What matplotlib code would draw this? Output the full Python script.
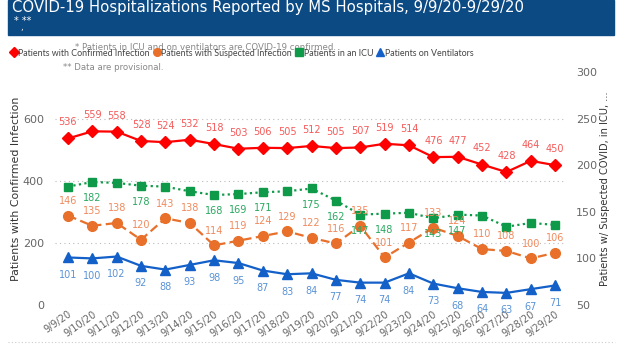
import numpy as np
import matplotlib.pyplot as plt
from matplotlib.patches import Rectangle

# data
dates = ['9/9/20', '9/10/20', '9/11/20', '9/12/20', '9/13/20', '9/14/20', '9/15/20',
         '9/16/20', '9/17/20', '9/18/20', '9/19/20', '9/20/20', '9/21/20', '9/22/20',
         '9/23/20', '9/24/20', '9/25/20', '9/26/20', '9/27/20', '9/28/20', '9/29/20']
confirmed = [536, 559, 558, 528, 524, 532, 518, 503, 506, 505, 512, 505, 507, 519,
             514, 476, 477, 452, 428, 464, 450]
suspected = [146, 135, 138, 120, 143, 138, 114, 119, 124, 129, 122, 116, 135, 101,
             117, 133, 124, 110, 108, 100, 106]
icu = [177, 182, 181, 178, 177, 172, 168, 169, 171, 172, 175, 162, 147, 148,
       149, 143, 147, 146, 134, 138, 136]
# labels shown for icu (others hidden behind other labels)
icu_shown = [1, 3, 6, 7, 8, 10, 11, 12, 13, 15, 16]
vent = [101, 100, 102, 92, 88, 93, 98, 95, 87, 83, 84, 77, 74, 74, 84, 73, 68, 64,
        63, 67, 71]

red = '#ff0000'
orange = '#e8702a'
green = '#0f9a4a'
blue = '#1360c8'
grey = '#666666'
narrow = ['Liberation Sans Narrow', 'DejaVu Sans']

fig = plt.figure(figsize=(6.21, 3.52), dpi=100)
ax = fig.add_axes([0.0886, 0.1335, 0.821, 0.662])
ax2 = ax.twinx()
x = np.arange(len(dates))

ax.plot(x, confirmed, color=red, lw=1.6, marker='D', ms=6.5, zorder=3)
ax2.plot(x, suspected, color=orange, lw=1.6, ls=(0, (4, 2)), marker='o', ms=7)
ax2.plot(x, icu, color=green, lw=1.6, ls=(0, (1, 1.5)), marker='s', ms=6)
ax2.plot(x, vent, color=blue, lw=1.6, marker='^', ms=7)

for i, v in enumerate(confirmed):
    ax.annotate(str(v), (i, v), xytext=(0, 8), textcoords='offset points',
                ha='center', va='bottom', fontsize=7, color='#f55a5a', family=narrow)
for i, v in enumerate(suspected):
    ax2.annotate(str(v), (i, v), xytext=(0, 7), textcoords='offset points',
                 ha='center', va='bottom', fontsize=7, color='#f08a5d', family=narrow)
for i in icu_shown:
    ax2.annotate(str(icu[i]), (i, icu[i]), xytext=(0, -8), textcoords='offset points',
                 ha='center', va='top', fontsize=7, color='#2aa860', family=narrow)
for i, v in enumerate(vent):
    ax2.annotate(str(v), (i, v), xytext=(0, -9), textcoords='offset points',
                 ha='center', va='top', fontsize=7, color='#5b93d6', family=narrow)

ax.set_xlim(-0.53, 20.4)
ax.set_ylim(0, 750)
ax2.set_ylim(50, 300)
ax.set_yticks([0, 200, 400, 600])
ax2.set_yticks([50, 100, 150, 200, 250, 300])
ax.set_xticks(x)
ax.set_xticklabels(dates, rotation=35, ha='right', rotation_mode='anchor',
                   fontsize=7, color=grey, family=narrow)
ax.tick_params(axis='y', labelsize=8, colors=grey, length=0, pad=8)
ax2.tick_params(axis='y', labelsize=8, colors=grey, length=0, pad=8)
ax.tick_params(axis='x', length=0, pad=3)
ax.grid(axis='y', color='#bbbbbb', ls=(0, (1, 3)), lw=0.8)
for a in (ax, ax2):
    for s in a.spines.values():
        s.set_visible(False)
ax.set_ylabel('Patients with Confirmed Infection', fontsize=7.9, color='#333333', labelpad=1)
ax2.set_ylabel('Patients w/ Suspected COVID, in ICU, ...', fontsize=7.1, color='#333333',
               labelpad=2)

# header bar
fig.patches.append(Rectangle((8 / 621, 1 - 35 / 352), 606 / 621, 35 / 352,
                             transform=fig.transFigure, color='#0c4a84', zorder=0))
fig.text(12 / 621, 1 - 12 / 352, 'COVID-19 Hospitalizations Reported by MS Hospitals, 9/9/20-9/29/20',
         color='white', fontsize=10.7, va='baseline', ha='left')
fig.text(14 / 621, 1 - 24 / 352, '* **', color='white', fontsize=7, va='baseline')
fig.text(20 / 621, 1 - 30 / 352, ',', color='white', fontsize=6, va='baseline')

# legend
h_conf = plt.Line2D([], [], color=red, marker='D', ls='none', ms=5)
h_susp = plt.Line2D([], [], color=orange, marker='o', ls='none', ms=5.5)
h_icu = plt.Line2D([], [], color=green, marker='s', ls='none', ms=5.5)
h_vent = plt.Line2D([], [], color=blue, marker='^', ls='none', ms=5.5)
fig.legend([h_conf, h_susp, h_icu, h_vent],
           ['Patients with Confirmed Infection', 'Patients with Suspected Infection',
            'Patients in an ICU', 'Patients on Ventilators'],
           loc='center left', bbox_to_anchor=(11 / 621, 1 - 53 / 352), ncol=4, frameon=False,
           prop={'family': 'Lato', 'size': 6.4}, handlelength=0.6, handletextpad=0.2,
           columnspacing=0.5, labelcolor='#444444', borderpad=0, borderaxespad=0)

fig.text(75 / 621, 1 - 48 / 352, '* Patients in ICU and on ventilators are COVID-19 confirmed.',
         color='#888888', fontsize=6.2, va='center')
fig.text(63 / 621, 1 - 67 / 352, '** Data are provisional.', color='#888888', fontsize=6.2,
         va='center')

fig.add_artist(plt.Line2D([8 / 621, 615 / 621], [1 - 342 / 352, 1 - 342 / 352],
                          transform=fig.transFigure, color='#cccccc', ls=(0, (1, 2)), lw=0.8))

fig.savefig('out.png', dpi=100)
